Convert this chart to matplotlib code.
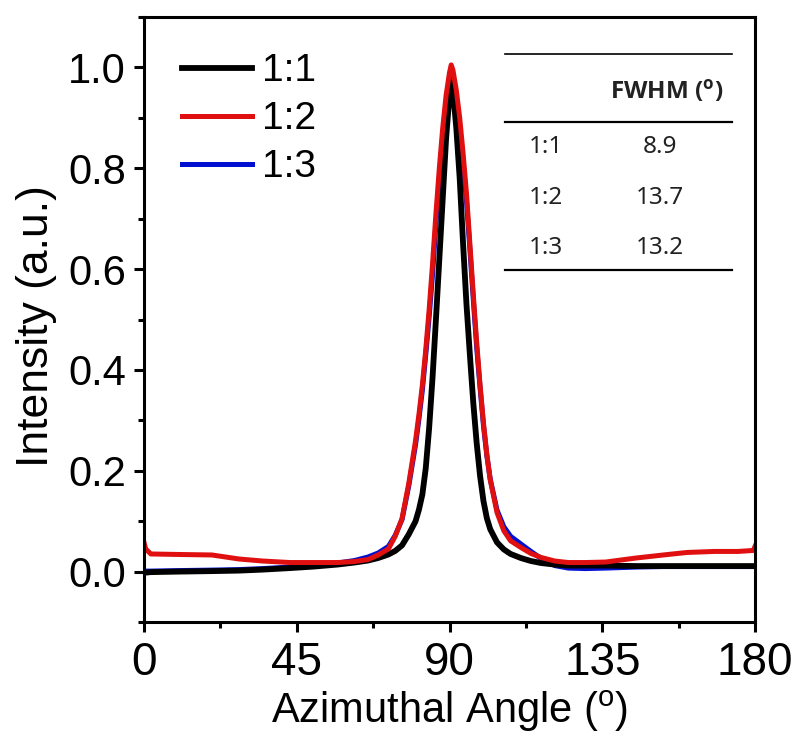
import matplotlib
matplotlib.use('Agg')
import matplotlib.pyplot as plt
from matplotlib.ticker import MultipleLocator
from matplotlib.lines import Line2D

# azimuthal angle (deg), shared by the three samples
angle = [0, 0.5, 2, 10, 20, 28, 35, 43, 50, 57, 62, 66, 69, 72, 74, 76, 78,
         80, 81, 82, 83, 84, 85, 86, 87, 88, 89, 90, 90.5, 91, 92, 93, 94,
         95, 96, 97, 98, 99, 100, 101, 102, 104, 106, 108, 111, 114, 117,
         121, 125, 130, 136, 145, 153, 160, 168, 175, 179.5, 180]

int_11 = [-0.002, -0.002, -0.001, 0.000, 0.001, 0.002, 0.004, 0.007, 0.010,
          0.014, 0.018, 0.022, 0.027, 0.034, 0.041, 0.052, 0.074, 0.100,
          0.123, 0.153, 0.205, 0.285, 0.385, 0.500, 0.620, 0.740, 0.860,
          0.945, 0.970, 0.955, 0.880, 0.780, 0.650, 0.530, 0.430, 0.335,
          0.255, 0.190, 0.140, 0.106, 0.084, 0.058, 0.044, 0.035, 0.027,
          0.021, 0.017, 0.014, 0.012, 0.012, 0.012, 0.011, 0.011, 0.011,
          0.011, 0.011, 0.011, 0.011]

int_12 = [0.058, 0.045, 0.035, 0.034, 0.033, 0.025, 0.021, 0.018, 0.018,
          0.018, 0.020, 0.024, 0.033, 0.045, 0.070, 0.105, 0.175, 0.260,
          0.312, 0.370, 0.440, 0.520, 0.610, 0.710, 0.800, 0.880, 0.945,
          0.990, 1.005, 0.995, 0.955, 0.900, 0.830, 0.750, 0.650, 0.550,
          0.455, 0.370, 0.295, 0.232, 0.182, 0.117, 0.081, 0.061, 0.048,
          0.036, 0.028, 0.021, 0.018, 0.018, 0.019, 0.027, 0.033, 0.038,
          0.040, 0.040, 0.042, 0.050]

int_13 = [0.001, 0.001, 0.001, 0.002, 0.003, 0.004, 0.006, 0.009, 0.013,
          0.017, 0.022, 0.029, 0.037, 0.050, 0.072, 0.103, 0.170, 0.252,
          0.303, 0.360, 0.430, 0.505, 0.590, 0.690, 0.780, 0.865, 0.930,
          0.975, 0.985, 0.975, 0.935, 0.880, 0.810, 0.735, 0.640, 0.540,
          0.445, 0.365, 0.290, 0.230, 0.183, 0.122, 0.089, 0.070, 0.055,
          0.040, 0.026, 0.012, 0.007, 0.006, 0.007, 0.009, 0.010, 0.010,
          0.010, 0.010, 0.010, 0.010]

ratios = ['1:1', '1:2', '1:3']
fwhm = ['8.9', '13.7', '13.2']
colors = ['black', '#e01010', '#0010d0']

plt.rcParams['font.family'] = ['Liberation Sans', 'DejaVu Sans']
plt.rcParams['mathtext.default'] = 'regular'

fig = plt.figure(figsize=(7.93, 7.37), dpi=100)
ax = fig.add_axes([0.1816, 0.1560, 0.7705, 0.8209])

# draw blue first so black and red sit on top of it
ax.plot(angle, int_13, color=colors[2], lw=3.6)
ax.plot(angle, int_11, color=colors[0], lw=4.2)
ax.plot(angle, int_12, color=colors[1], lw=3.6)

ax.set_xlim(0, 180)
ax.set_ylim(-0.1, 1.1)
ax.xaxis.set_major_locator(MultipleLocator(45))
ax.xaxis.set_minor_locator(MultipleLocator(22.5))
ax.yaxis.set_major_locator(MultipleLocator(0.2))
ax.yaxis.set_minor_locator(MultipleLocator(0.1))
ax.yaxis.set_major_formatter(plt.FormatStrFormatter('%.1f'))

for s in ax.spines.values():
    s.set_linewidth(2.2)
ax.tick_params(which='major', direction='out', length=7, width=2.2)
ax.tick_params(which='minor', direction='out', length=4, width=2.2)
ax.tick_params(axis='y', which='major', labelsize=30, pad=6)
ax.tick_params(axis='x', which='major', labelsize=33, pad=7)

ax.set_xlabel('Azimuthal Angle ($^{o}$)', fontsize=30)
ax.xaxis.set_label_coords(0.5, -0.147)
ax.xaxis.label.set_va('center')
ax.set_ylabel('Intensity (a.u.)', fontsize=32)
ax.yaxis.set_label_coords(-0.176, 0.49)
ax.yaxis.label.set_va('center')

handles = [Line2D([], [], color=colors[0], lw=4.2),
           Line2D([], [], color=colors[1], lw=3.6),
           Line2D([], [], color=colors[2], lw=3.6)]
ax.legend(handles, ratios, loc='upper left', bbox_to_anchor=(0.062, 0.940),
          frameon=False, fontsize=28, handlelength=1.8, handletextpad=0.25,
          labelspacing=0.31, borderpad=0, borderaxespad=0)

# FWHM table in the upper right corner
tk = dict(transform=ax.transAxes, color='black', clip_on=False)
ax.plot([0.591, 0.962], [0.939, 0.939], lw=1.2, **tk)
ax.plot([0.591, 0.962], [0.826, 0.826], lw=1.6, **tk)
ax.plot([0.591, 0.962], [0.582, 0.582], lw=1.6, **tk)
ax.text(0.855, 0.876, 'FWHM ($^{o}$)', transform=ax.transAxes,
        ha='center', va='center', fontsize=17.5, fontweight='bold',
        family=['Open Sans', 'Lato', 'DejaVu Sans'], color='#222222')
row_y = [0.785, 0.701, 0.618]
for r, v, y in zip(ratios, fwhm, row_y):
    ax.text(0.658, y, r, transform=ax.transAxes, ha='center', va='center',
            fontsize=17.5, family=['Noto Sans', 'DejaVu Sans'],
            color='#222222')
    ax.text(0.845, y, v, transform=ax.transAxes, ha='center', va='center',
            fontsize=17.5, family=['Noto Sans', 'DejaVu Sans'],
            color='#222222')

fig.savefig('out.png', dpi=100)
